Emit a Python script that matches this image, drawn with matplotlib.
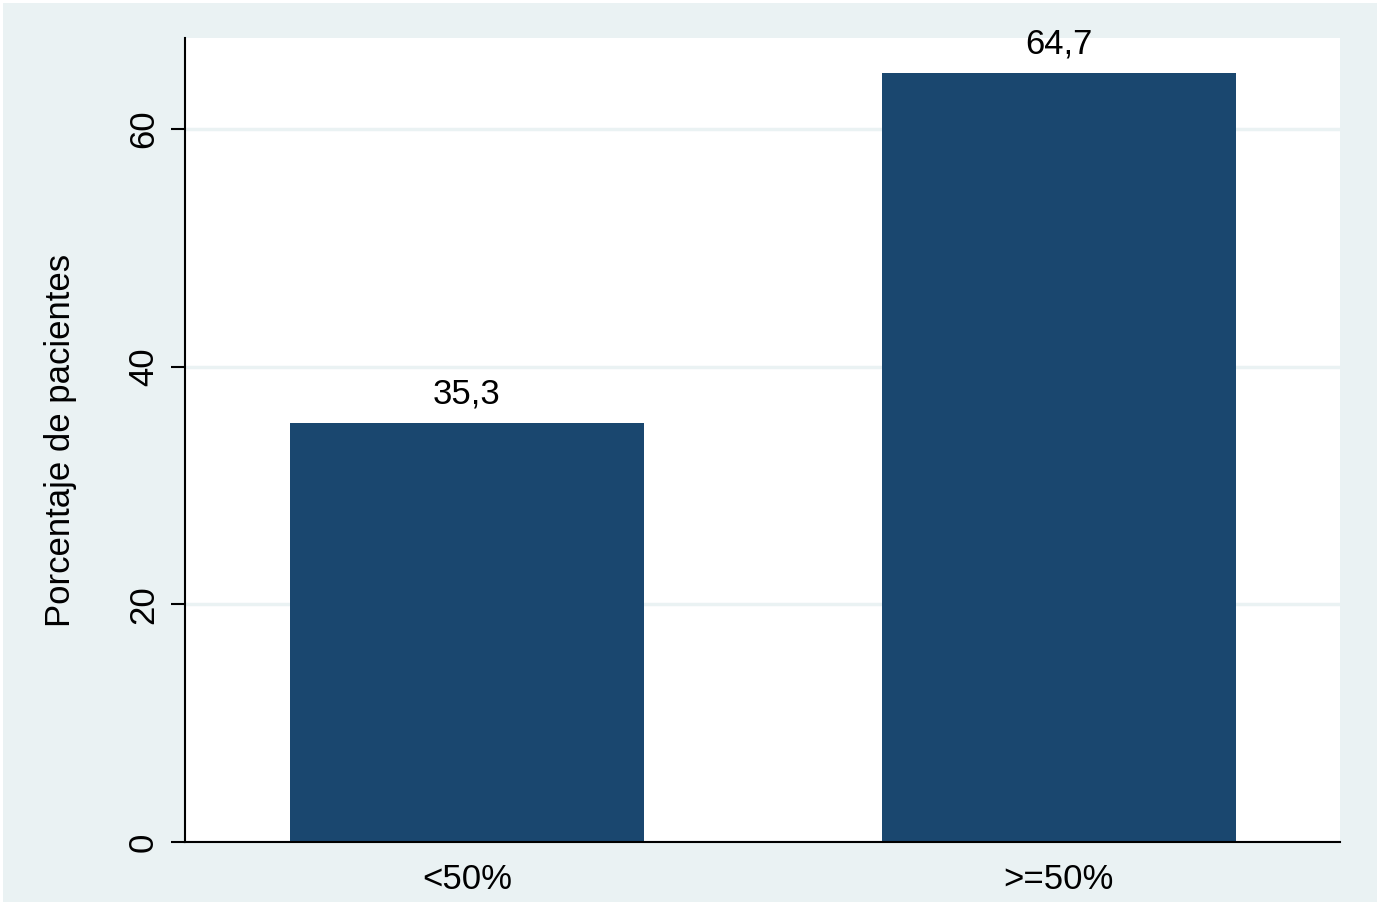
import matplotlib.pyplot as plt
import numpy as np

# data
categories = ['<50%', '>=50%']
percent = [35.3, 64.7]
value_labels = ['35,3', '64,7']
yticks = [0, 20, 40, 60]

bar_color = '#1a476f'
bg_color = '#eaf2f3'

plt.rcParams['font.family'] = ['Liberation Sans', 'DejaVu Sans']

fig = plt.figure(figsize=(13.8, 9.05), dpi=100)
fig.patch.set_facecolor(bg_color)
fig.patch.set_edgecolor('white')
fig.patch.set_linewidth(4)

ax = fig.add_axes([185/1380, 63/905, 1155/1380, 804/905])
ax.set_facecolor('white')

x = np.arange(len(categories))
ax.bar(x, percent, width=0.598, color=bar_color, zorder=2)

for xi, v, lab in zip(x, percent, value_labels):
    ax.annotate(lab, (xi, v), xytext=(0, 9), textcoords='offset points',
                ha='center', va='bottom', fontsize=25)

ax.set_xlim(-0.476, 1.475)
ax.set_ylim(0, 67.66)

ax.set_yticks(yticks)
ax.set_yticklabels([str(t) for t in yticks], rotation=90, va='center',
                   fontsize=25)
ax.tick_params(axis='y', length=10, width=1.5, pad=8)
ax.yaxis.grid(True, color=bg_color, linewidth=2.5, zorder=0)
ax.set_axisbelow(True)

ax.set_xticks(x)
ax.set_xticklabels(categories, fontsize=25)
ax.tick_params(axis='x', length=0, pad=15)

for side in ['top', 'right']:
    ax.spines[side].set_visible(False)
for side in ['left', 'bottom']:
    ax.spines[side].set_linewidth(1.5)

ax.set_ylabel('Porcentaje de pacientes', fontsize=25, labelpad=36)

fig.savefig('out.png', dpi=100, facecolor=fig.get_facecolor(),
            edgecolor='white')
